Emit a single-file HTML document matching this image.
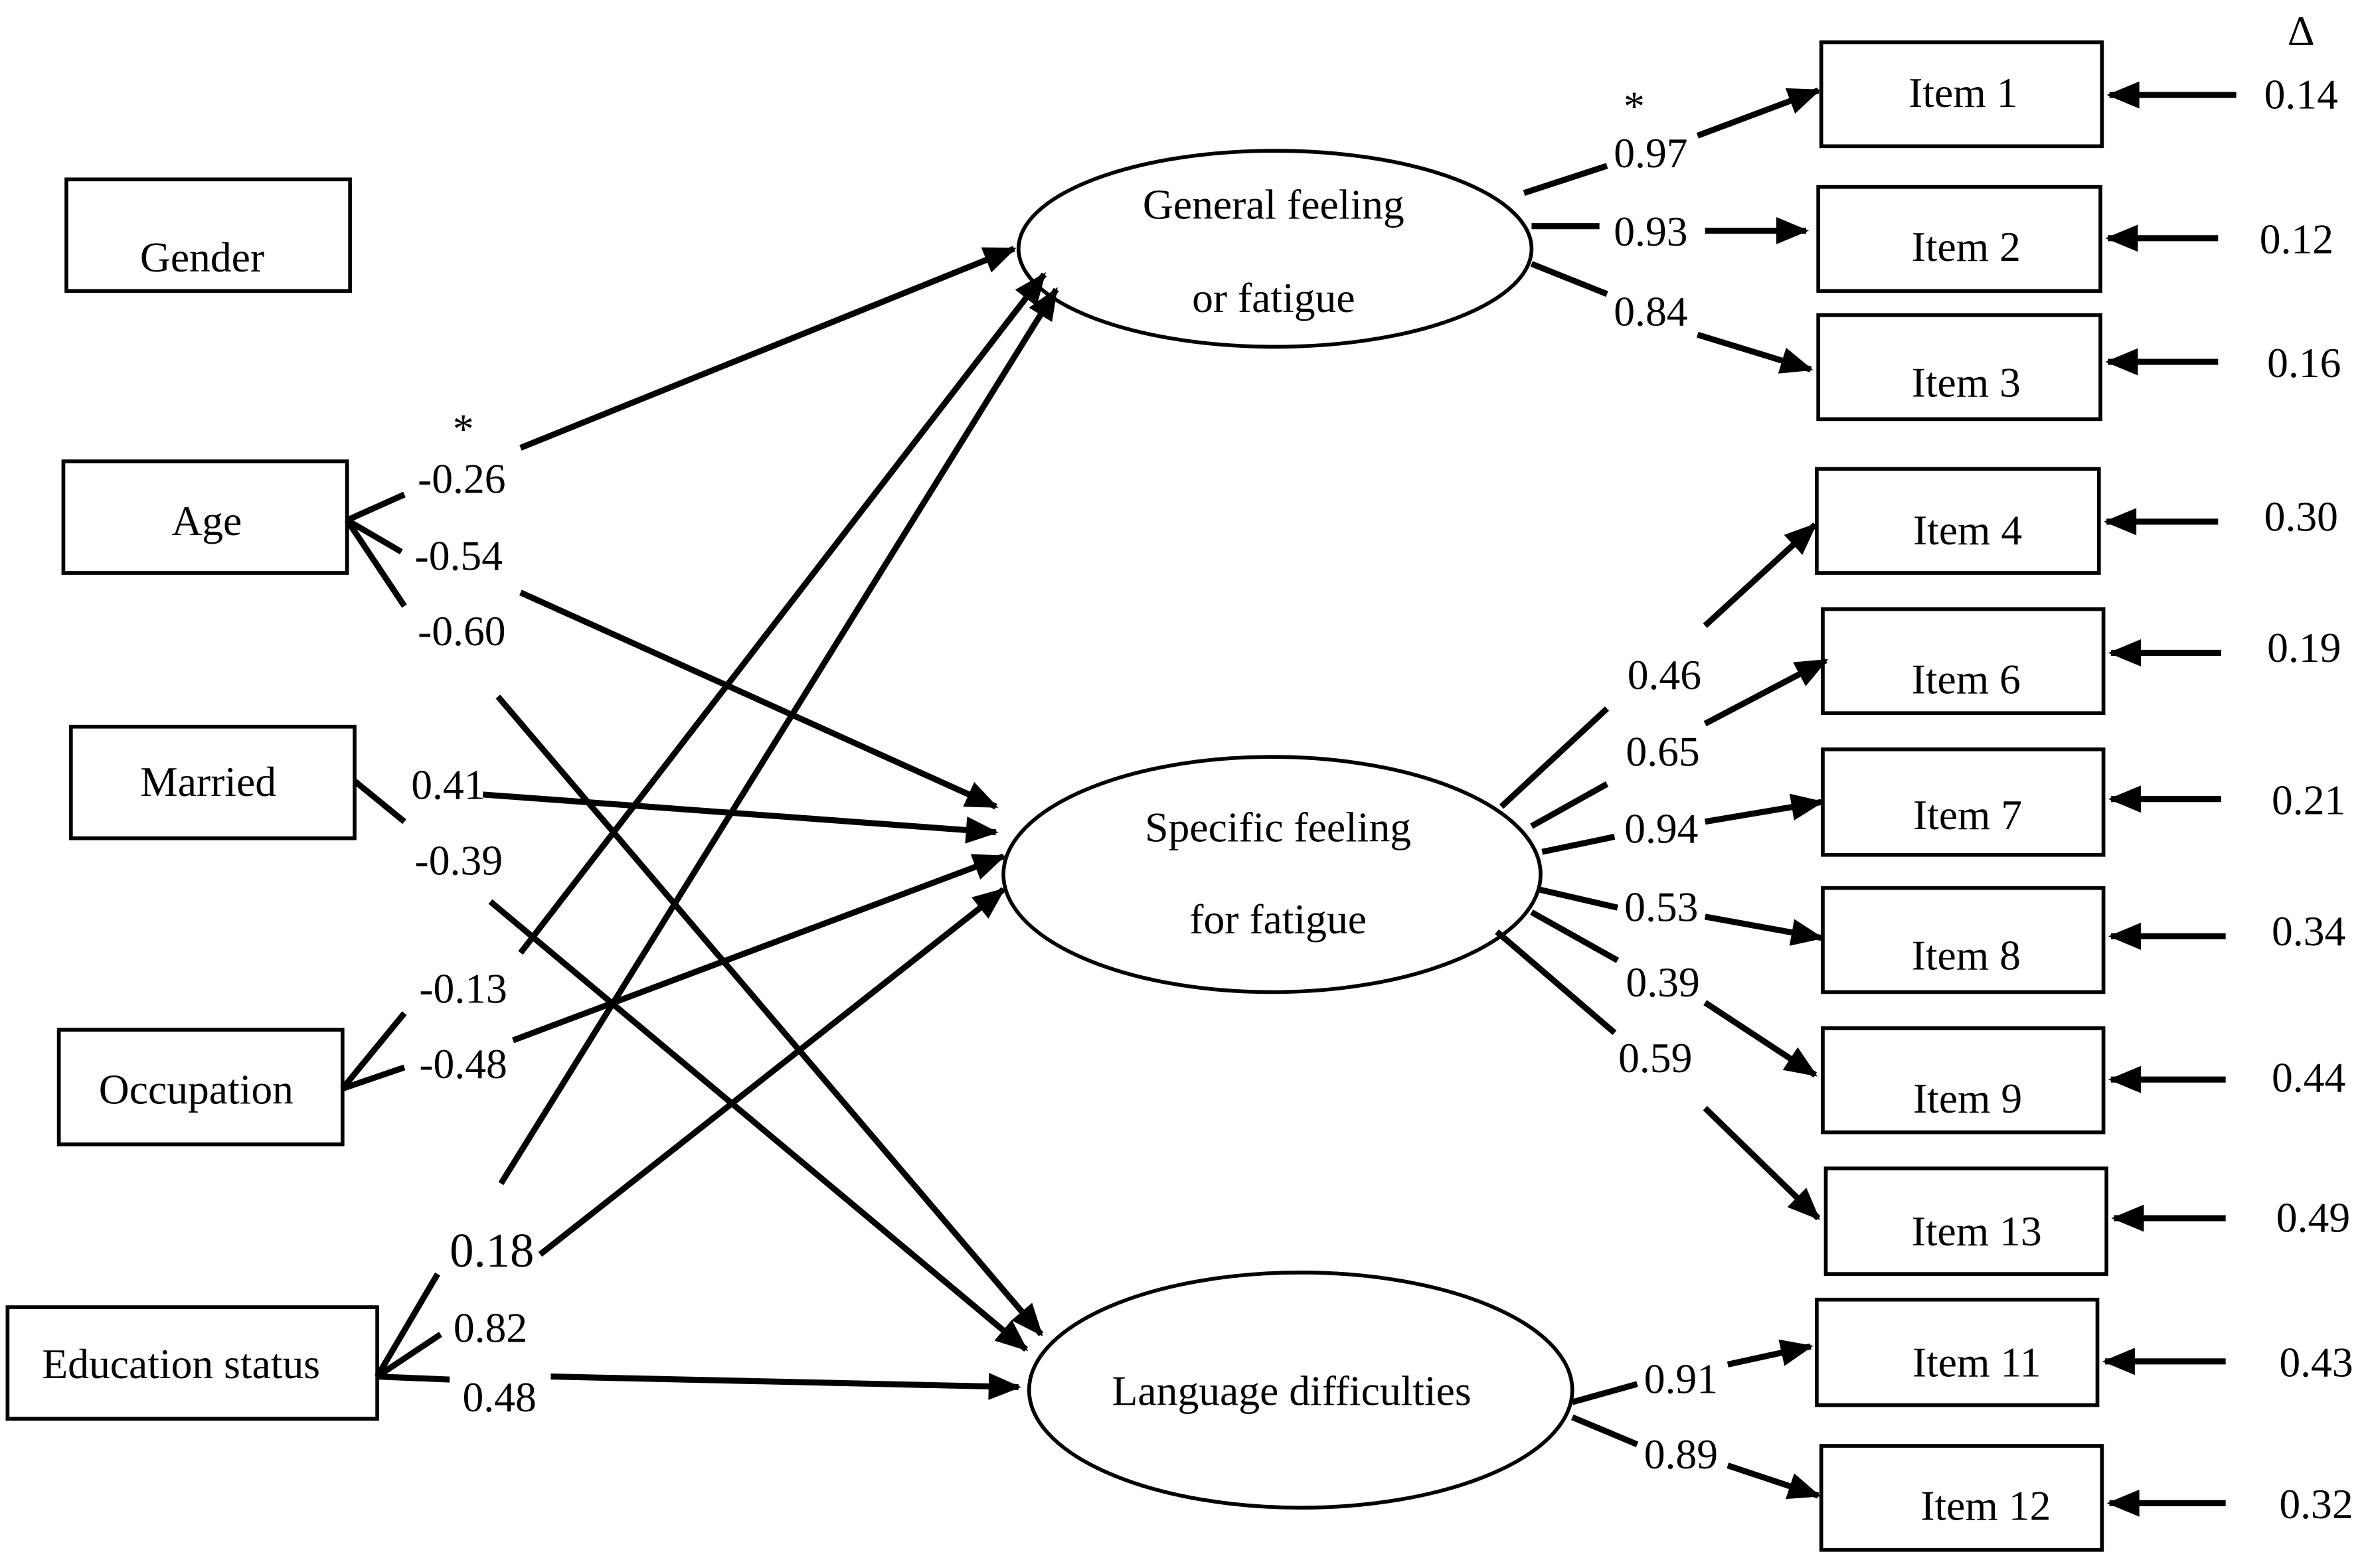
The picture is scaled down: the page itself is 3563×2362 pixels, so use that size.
<!DOCTYPE html>
<html><head><meta charset="utf-8">
<style>
html,body{margin:0;padding:0;background:#fff;}
svg{display:block;}
text{font-family:"Liberation Serif",serif;font-size:28px;fill:#000;}
</style></head>
<body>
<svg width="3563" height="2362" viewBox="0 0 1568 1040" preserveAspectRatio="none" xmlns="http://www.w3.org/2000/svg">
<defs>
<marker id="a" viewBox="0 0 10 10" refX="9" refY="5" markerWidth="6" markerHeight="6" markerUnits="userSpaceOnUse" orient="auto">
</marker>
<marker id="h" viewBox="0 0 12 10" refX="11" refY="5" markerWidth="24" markerHeight="18" markerUnits="userSpaceOnUse" orient="auto">
<path d="M0,0 L12,5 L0,10 z" fill="#000"/>
</marker>
</defs>
<g fill="none" stroke="#000" stroke-width="2.5">
<rect x="44" y="119" width="188" height="74"/>
<rect x="42" y="306" width="188" height="74"/>
<rect x="47" y="482" width="188" height="74"/>
<rect x="39" y="683" width="188" height="76"/>
<rect x="5" y="867" width="245" height="74"/>
<ellipse cx="845" cy="165" rx="170" ry="65"/>
<ellipse cx="843" cy="580" rx="178" ry="78"/>
<ellipse cx="862" cy="922" rx="180" ry="78"/>
<rect x="1207" y="28" width="186" height="69"/>
<rect x="1205" y="124" width="187" height="69"/>
<rect x="1205" y="209" width="187" height="69"/>
<rect x="1204" y="311" width="187" height="69"/>
<rect x="1208" y="404" width="186" height="69"/>
<rect x="1208" y="497" width="186" height="70"/>
<rect x="1208" y="589" width="186" height="69"/>
<rect x="1208" y="682" width="186" height="69"/>
<rect x="1210" y="775" width="186" height="70"/>
<rect x="1204" y="862" width="186" height="70"/>
<rect x="1207" y="959" width="186" height="69"/>
</g>
<g fill="none" stroke="#000" stroke-width="4">
<!-- stubs -->
<line x1="230" y1="345" x2="268" y2="328"/>
<line x1="230" y1="345" x2="266" y2="366"/>
<line x1="230" y1="345" x2="268" y2="402"/>
<line x1="235" y1="518" x2="268" y2="545"/>
<line x1="227" y1="722" x2="268" y2="672"/>
<line x1="227" y1="722" x2="268" y2="708"/>
<line x1="250" y1="913" x2="290" y2="845"/>
<line x1="250" y1="913" x2="292" y2="885"/>
<line x1="250" y1="913" x2="298" y2="915"/>
<!-- to latent -->
<line x1="345" y1="297" x2="672" y2="165" marker-end="url(#h)"/>
<line x1="345" y1="393" x2="660" y2="535" marker-end="url(#h)"/>
<line x1="330" y1="462" x2="690" y2="885" marker-end="url(#h)"/>
<line x1="320" y1="527" x2="660" y2="552" marker-end="url(#h)"/>
<line x1="325" y1="598" x2="680" y2="895" marker-end="url(#h)"/>
<line x1="345" y1="632" x2="692" y2="182" marker-end="url(#h)"/>
<line x1="340" y1="690" x2="665" y2="568" marker-end="url(#h)"/>
<line x1="358" y1="832" x2="665" y2="590" marker-end="url(#h)"/>
<line x1="332" y1="785" x2="700" y2="192" marker-end="url(#h)"/>
<line x1="365" y1="913" x2="675" y2="920" marker-end="url(#h)"/>
<!-- general -->
<line x1="1010" y1="128" x2="1065" y2="110"/>
<line x1="1125" y1="90" x2="1205" y2="60" marker-end="url(#h)"/>
<line x1="1015" y1="150" x2="1060" y2="150"/>
<line x1="1130" y1="153" x2="1197" y2="153" marker-end="url(#h)"/>
<line x1="1015" y1="175" x2="1065" y2="195"/>
<line x1="1125" y1="222" x2="1200" y2="245" marker-end="url(#h)"/>
<!-- specific -->
<line x1="995" y1="535" x2="1065" y2="470"/>
<line x1="1130" y1="415" x2="1203" y2="348" marker-end="url(#h)"/>
<line x1="1015" y1="548" x2="1065" y2="520"/>
<line x1="1130" y1="480" x2="1210" y2="438" marker-end="url(#h)"/>
<line x1="1022" y1="565" x2="1070" y2="555"/>
<line x1="1130" y1="545" x2="1207" y2="532" marker-end="url(#h)"/>
<line x1="1020" y1="590" x2="1072" y2="602"/>
<line x1="1130" y1="608" x2="1207" y2="622" marker-end="url(#h)"/>
<line x1="1015" y1="605" x2="1072" y2="637"/>
<line x1="1130" y1="665" x2="1203" y2="713" marker-end="url(#h)"/>
<line x1="992" y1="618" x2="1070" y2="685"/>
<line x1="1130" y1="735" x2="1205" y2="808" marker-end="url(#h)"/>
<!-- language -->
<line x1="1042" y1="930" x2="1085" y2="918"/>
<line x1="1145" y1="905" x2="1200" y2="893" marker-end="url(#h)"/>
<line x1="1042" y1="940" x2="1085" y2="958"/>
<line x1="1145" y1="972" x2="1205" y2="992" marker-end="url(#h)"/>
<!-- residuals -->
<line x1="1482" y1="63" x2="1398" y2="63" marker-end="url(#h)"/>
<line x1="1470" y1="158" x2="1397" y2="158" marker-end="url(#h)"/>
<line x1="1470" y1="240" x2="1397" y2="240" marker-end="url(#h)"/>
<line x1="1470" y1="346" x2="1396" y2="346" marker-end="url(#h)"/>
<line x1="1472" y1="433" x2="1399" y2="433" marker-end="url(#h)"/>
<line x1="1472" y1="530" x2="1399" y2="530" marker-end="url(#h)"/>
<line x1="1475" y1="621" x2="1399" y2="621" marker-end="url(#h)"/>
<line x1="1475" y1="716" x2="1399" y2="716" marker-end="url(#h)"/>
<line x1="1475" y1="808" x2="1401" y2="808" marker-end="url(#h)"/>
<line x1="1475" y1="903" x2="1395" y2="903" marker-end="url(#h)"/>
<line x1="1475" y1="997" x2="1398" y2="997" marker-end="url(#h)"/>
</g>
<g text-anchor="middle">
<text x="134" y="180">Gender</text>
<text x="137" y="355">Age</text>
<text x="138" y="528">Married</text>
<text x="130" y="732">Occupation</text>
<text x="120" y="914">Education status</text>
<text x="844" y="145">General feeling</text>
<text x="844" y="207">or fatigue</text>
<text x="847" y="558">Specific feeling</text>
<text x="847" y="619">for fatigue</text>
<text x="856" y="932">Language difficulties</text>
<text x="1301" y="71">Item 1</text>
<text x="1303" y="173">Item 2</text>
<text x="1303" y="263">Item 3</text>
<text x="1304" y="361">Item 4</text>
<text x="1303" y="460">Item 6</text>
<text x="1304" y="550">Item 7</text>
<text x="1303" y="643">Item 8</text>
<text x="1304" y="738">Item 9</text>
<text x="1310" y="826">Item 13</text>
<text x="1310" y="913">Item 11</text>
<text x="1316" y="1008">Item 12</text>
<text x="1525" y="72">0.14</text>
<text x="1522" y="168">0.12</text>
<text x="1527" y="250">0.16</text>
<text x="1525" y="352">0.30</text>
<text x="1527" y="439">0.19</text>
<text x="1530" y="540">0.21</text>
<text x="1530" y="627">0.34</text>
<text x="1530" y="724">0.44</text>
<text x="1533" y="817">0.49</text>
<text x="1535" y="913">0.43</text>
<text x="1535" y="1007">0.32</text>
<text x="1525" y="30">Δ</text>
<text x="307" y="294">*</text>
<text x="1083" y="80">*</text>
<text x="306" y="327">-0.26</text>
<text x="304" y="378">-0.54</text>
<text x="306" y="428">-0.60</text>
<text x="297" y="530">0.41</text>
<text x="304" y="580">-0.39</text>
<text x="307" y="665">-0.13</text>
<text x="307" y="715">-0.48</text>
<text x="326" y="840" style="font-size:32px">0.18</text>
<text x="325" y="890">0.82</text>
<text x="331" y="936">0.48</text>
<text x="1094" y="111">0.97</text>
<text x="1094" y="163">0.93</text>
<text x="1094" y="216">0.84</text>
<text x="1103" y="457">0.46</text>
<text x="1102" y="508">0.65</text>
<text x="1101" y="559">0.94</text>
<text x="1101" y="611">0.53</text>
<text x="1102" y="661">0.39</text>
<text x="1097" y="711">0.59</text>
<text x="1114" y="924">0.91</text>
<text x="1114" y="974">0.89</text>
</g>
</svg>
</body></html>
